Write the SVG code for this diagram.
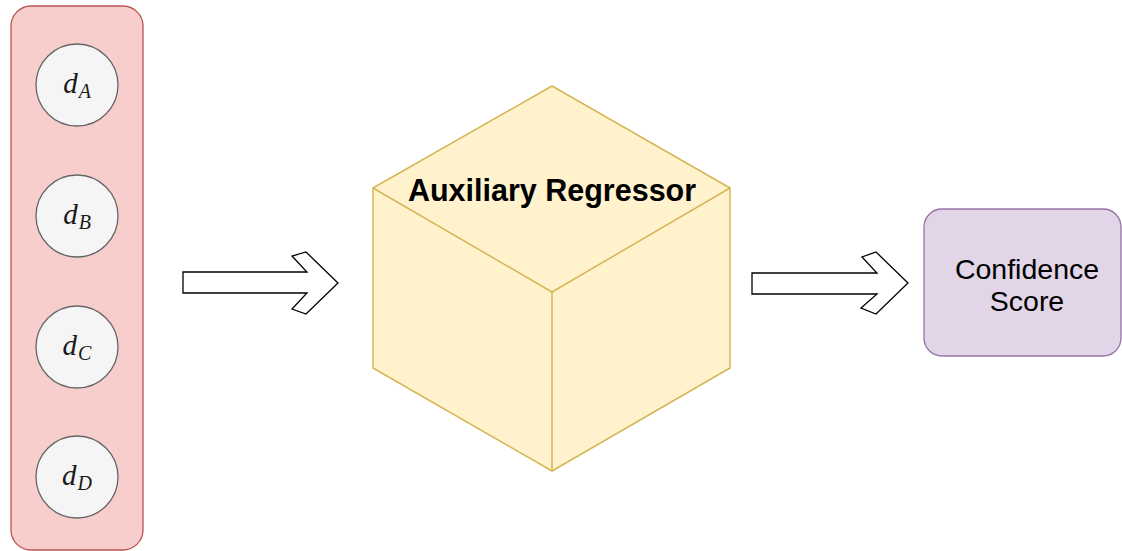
<svg xmlns="http://www.w3.org/2000/svg" width="1122" height="551" viewBox="0 0 1122 551">
  <style>
    .circ { fill: #f5f5f5; stroke: #666666; stroke-width: 1.3; }
    .dl { font-family: "Liberation Serif", "DejaVu Serif", serif; font-style: italic; font-size: 29px; fill: #1a1a1a; text-anchor: middle; }
    .sub { font-size: 20px; }
    .cube { fill: #fff2cc; stroke: #d6b656; stroke-width: 1.5; stroke-linejoin: round; }
    .flex { fill: #ffffff; stroke: #000000; stroke-width: 1.3; stroke-linejoin: miter; }
  </style>
  <rect width="1122" height="551" fill="#ffffff"/>
  <g id="inputs">
    <rect x="11" y="6" width="132" height="544" rx="20" ry="20" fill="#f8cecc" stroke="#b85450" stroke-width="1.3"/>
  </g>
  <g id="dA">
    <circle class="circ" cx="77" cy="85" r="41"/>
    <text class="dl" x="77" y="93">d<tspan class="sub" dx="1" dy="5">A</tspan></text>
  </g>
  <g id="dB">
    <circle class="circ" cx="77" cy="216" r="41"/>
    <text class="dl" x="77" y="224">d<tspan class="sub" dx="1" dy="5">B</tspan></text>
  </g>
  <g id="dC">
    <circle class="circ" cx="77" cy="347" r="41"/>
    <text class="dl" x="77" y="355">d<tspan class="sub" dx="1" dy="5">C</tspan></text>
  </g>
  <g id="dD">
    <circle class="circ" cx="77" cy="477" r="41"/>
    <text class="dl" x="77" y="485">d<tspan class="sub" dx="1" dy="5">D</tspan></text>
  </g>
  <g id="regressor">
    <polygon class="cube" points="552,86 730,188 730,368 552,471 373,368 373,188"/>
    <polyline class="cube" fill="none" points="373,188 552,292 730,188"/>
    <line class="cube" x1="552" y1="292" x2="552" y2="471"/>
    <text x="552" y="201" font-family="Liberation Sans, Arial, sans-serif" font-weight="bold" font-size="30.5" text-anchor="middle" fill="#000000">Auxiliary Regressor</text>
  </g>
  <g id="confidence">
    <rect x="924" y="209" width="197" height="147" rx="18" ry="18" fill="#e1d5e7" stroke="#9673a6" stroke-width="1.3"/>
    <text x="1027" y="279" font-family="Liberation Sans, Arial, sans-serif" font-size="28.5" text-anchor="middle" fill="#000000">Confidence</text>
    <text x="1027" y="311" font-family="Liberation Sans, Arial, sans-serif" font-size="28.5" text-anchor="middle" fill="#000000">Score</text>
  </g>
  <g id="connectors">
    <polygon class="flex" points="183,272 307,272 292,256 306,252 338,283 306,314 292,309 307,293 183,293"/>
    <polygon class="flex" points="752,273 877,273 862,257 876,252 908,283 876,314 861,308 877,294 752,294"/>
  </g>
</svg>
